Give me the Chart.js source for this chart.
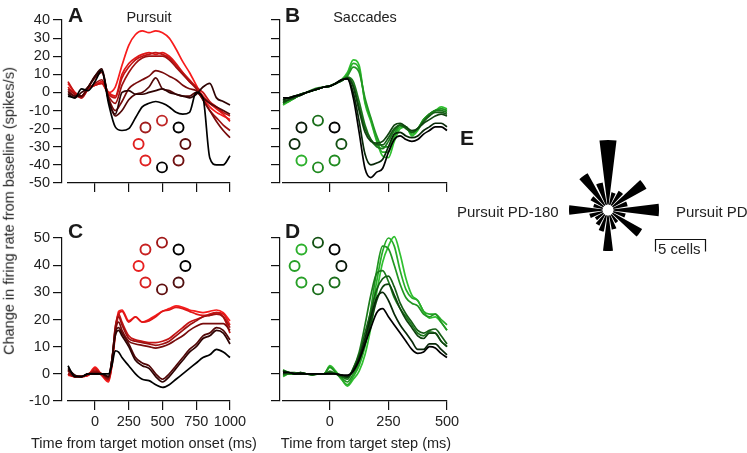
<!DOCTYPE html>
<html><head><meta charset="utf-8">
<script src="https://cdn.jsdelivr.net/npm/chart.js@4.4.1/dist/chart.umd.min.js"></script>
<style>
html,body{margin:0;padding:0;background:#fff;}
#wrap{position:relative;width:747px;height:453px;overflow:hidden;font-family:"Liberation Sans",Arial,Helvetica,sans-serif;color:#222;}
canvas{position:absolute;}
.t{position:absolute;white-space:nowrap;line-height:1;}
.L{font-weight:bold;font-size:21px;color:#1a1a1a;}
.s{font-size:14.5px;}
</style></head><body><div id="wrap">
<canvas id="cA" width="747" height="453" style="left:0;top:0"></canvas>
<canvas id="cB" width="747" height="453" style="left:0;top:0"></canvas>
<canvas id="cC" width="747" height="453" style="left:0;top:0"></canvas>
<canvas id="cD" width="747" height="453" style="left:0;top:0"></canvas>
<canvas id="rA" width="84" height="84" style="left:120px;top:102px"></canvas>
<canvas id="rB" width="84" height="84" style="left:276px;top:102px"></canvas>
<canvas id="rC" width="84" height="84" style="left:120px;top:224px"></canvas>
<canvas id="rD" width="84" height="84" style="left:276px;top:224px"></canvas>
<canvas id="cE" width="220" height="160" style="left:528px;top:130px"></canvas>
<div class="t L" style="left:68px;top:4px">A</div>
<div class="t L" style="left:285px;top:4px">B</div>
<div class="t L" style="left:68px;top:220px">C</div>
<div class="t L" style="left:285px;top:220px">D</div>
<div class="t L" style="left:460px;top:127px">E</div>
<div class="t s" style="left:149px;top:10px;transform:translateX(-50%)">Pursuit</div>
<div class="t s" style="left:365px;top:10px;transform:translateX(-50%)">Saccades</div>
<div class="t s" style="left:144px;top:436px;transform:translateX(-50%)">Time from target motion onset (ms)</div>
<div class="t s" style="left:366px;top:436px;transform:translateX(-50%)">Time from target step (ms)</div>
<div class="t s" style="left:9px;top:211px;transform:translate(-50%,-50%) rotate(-90deg)">Change in firing rate from baseline (spikes/s)</div>
<div class="t" style="left:457px;top:204px;font-size:15px">Pursuit PD-180</div>
<div class="t" style="left:676px;top:204px;font-size:15px">Pursuit PD</div>
<div class="t" style="left:658px;top:241px;font-size:15px">5 cells</div>
</div>
<script>
// ---------- time bases ----------
const tA = [-200,-150,-100,-50,0,50,100,150,200,250,300,350,400,450,500,550,600,650,700,750,800,850,900,950,1000];
const tB = [-200,-175,-150,-125,-100,-75,-50,-25,0,25,50,75,100,125,150,175,200,225,250,275,300,325,350,375,400,425,450,475,500];
const tC = [-200,-150,-100,-50,0,50,100,125,150,175,200,250,300,350,400,450,500,550,600,650,700,750,800,850,900,950,1000];
const tD = tB;

// ---------- Panel A: pursuit, 8 directions (dark -> bright red) ----------
const A8 = [-2,-3,2,1,6,12,-6,-19,-21,-20,-14,-8,-6,-5,-6,-8,-11,-12,-11,0,-3,-36,-40,-40,-35];
const A7 = [-1,-3,0,3,9,13,-4,-12,0,1,-1,-1,0,1,2,0,-1,-2,-3,-1,3,5,-3,-5,-7];
const A6 = [0,-2,-2,3,9,12,-4,-13,-10,-4,-1,0,3,8,2,1,-1,-2,-2,0,-3,-6,-8,-10,-12];
const A5 = [1,-2,-2,3,8,11,-3,-10,-5,2,5,7,9,12,11,9,7,4,2,1,-4,-10,-16,-21,-25];
const A4 = [2,-1,-3,2,5,7,-2,-6,4,11,16,19,20,20,20,18,14,10,6,2,-4,-10,-14,-18,-21];
const A3 = [6,0,-2,2,4,5,-1,-3,8,14,18,20,21,22,21,19,15,11,7,3,0,-5,-8,-11,-13];
const A2 = [3,-1,-2,3,4,6,0,-2,10,16,19,21,22,21,22,20,16,11,6,3,-2,-6,-9,-12,-16];
const A1 = [5,0,-3,2,4,5,0,3,15,26,32,34,33,34,33,30,24,17,11,4,-3,-8,-11,-13,-15];

// ---------- Panel B: saccades (dark -> bright green) ----------
const B1 = [-3,-3,-2,-1.5,0,1,2,3,3.5,5,7,7.5,-3,-22,-42,-47,-44,-42,-33,-26,-24,-26,-27,-26,-23,-21,-19,-19,-21];
const B2 = [-4,-3,-2,-1,0,1,2,3,3.5,5,7,7.5,0,-16,-34,-40,-39,-37,-30,-23,-22,-24,-25,-24,-21,-19,-17,-17,-19];
const B3 = [-5,-4,-2.5,-1,0,1,2.2,3,3.5,5,6.5,8,3,-10,-22,-27,-28,-27,-23,-18,-17,-19,-21,-20,-17,-15,-13,-12,-13];
const B4 = [-6,-4,-3,-1.5,0,1,2,3,3.5,5,6.5,8,4,-8,-20,-26,-29,-29,-25,-20,-18,-20,-22,-20,-16,-13,-11,-11,-12];
const B5 = [-4,-3,-2,-1,0,1.5,2.5,3,3.5,5,6.5,8.5,6,-5,-18,-26,-30,-31,-27,-21,-18,-19,-22,-20,-16,-12,-10,-10,-11];
const B6 = [-5,-4,-3,-1,0,1,2,3,3.5,5,6.5,9,14,11,-3,-14,-24,-30,-30,-23,-18,-19,-22,-20,-15,-12,-10,-9,-10];
const B7 = [-6,-5,-3,-1.5,0,1,2,3,3.5,5,7,10,16,13,-5,-15,-26,-33,-33,-25,-19,-19,-23,-20,-15,-12,-10,-9,-10];
const B8 = [-7,-5,-3,-1.5,0,1,2,3,3.5,5,7,11,18,15,-6,-16,-27,-35,-36,-27,-20,-19,-24,-21,-15,-12,-10,-8,-9];

// ---------- Panel C: pursuit, step-ramp ----------
const C8 = [3,-1,-1,0,0,0,0,3,8.5,8,6,3,0,-2,-2.5,-4,-5,-4,-2,0,2,4,6,7,9,8,6];
const C7 = [2,-0.5,-1,0,0,0,-1,5,14,16,14,10,5,3,2,-1,-3,-1,2,5,8,10,13,14,16,15,11];
const C6 = [1.5,-0.5,-1,0,0,0,-1,5,15,17,15,11,6,4,3,0,-2,0,3,6,9,11,14,15,17,16,12.5];
const C5 = [1,-1,-1,0,0.5,0,-1.5,5,16,19,16,12,11,10.5,10,9.5,10,11,12.5,14,16,17.5,18.5,18.5,18.5,18.5,16];
const C4 = [0,-1,-1,0,1,0,-2,4,17,21,18,13,12,11.5,11,10.5,11,12,14,16,18,19.5,21,21.5,22,21,17];
const C3 = [0,-1,-1,-0.5,1.5,-0.5,-2,4,17,22,19,14,12.5,12,11.5,11.5,12,13,15,17,19,20,21,22,22.5,21,15];
const C2 = [0,-1,-1,-0.5,2,-0.5,-2.5,3,14,22,23,19,21,19,19.5,21,23,23.5,24.5,24,23,22,21.5,21.5,22.5,22,18];
const C1 = [-0.5,-1,-1,-0.5,2.5,-0.5,-3,3,15,23,23.5,19.5,21,19,20,21.5,23,24,25,24.5,23.5,23,22.5,23,23.5,22.5,19.5];

// ---------- Panel D: saccades ----------
const D8 = [0.5,0.5,0,0,0,0,0,0,0,0,-0.5,-0.5,1,5,11,17,22.5,24,21,18,15,12,9,7.5,8,10,9.5,7.5,6];
const D7 = [1,0.5,0,0.5,0,0,0,0,0,0,-0.5,-1,1.5,6,13,21,28,30,27,22,18,15,12,9,9,11,11,9,7];
const D6 = [0,0.5,0,0,0,0,0,0,0.5,0,-0.5,-1,1,5,11,19,27,32,33,29,24,20,17,14,13,15,15,12,10];
const D5 = [1,0.5,0.5,0,0,-0.5,0,0,0.5,0,-1,-1.5,2,7,15,23,31,35,36,32,26,22,19,16,15,16,16.5,14,11];
const D4 = [-0.5,0,0,0.5,0,0,0,0,1,0,-1,-2,2,8,18,29,37,38,34,28,24,21,18,15,14,15.5,15,12,10];
const D3 = [1.5,0.5,0,0,0,-0.5,0,0,2.5,0.5,-1.5,-3,0,4,12,24,38,47,46,40,33,28,26,25,22,21,22,19,16];
const D2 = [0,0,0,0.5,0,0,0,0,2.5,0.5,-2,-4,-1,3,10,21,34,45,50,47,38,31,28,27,23,22,22,20,18];
const D1 = [-1,0,0,0,0,0,0,0,3,1,-2,-4.5,-2,1,7,17,30,41,47,50.5,44,35,29,27,23,20.5,21,19,16];

// ---------- colours (dark -> bright) ----------
const reds = ['#000000','#2e0303','#520707','#780b0b','#9e1010','#c41414','#e01717','#f81c1c'];
const greens = ['#000000','#082808','#0f430f','#155e15','#1b7a1b','#219621','#28ac28','#30c030'];

// ---------- axis ticks ----------
const yTicksTop = [40,30,20,10,0,-10,-20,-30,-40,-50];
const yTicksBot = [50,40,30,20,10,0,-10];
const xTicksPursuit = [0,250,500,750,1000];
const xTicksSacc = [0,250,500];

// ---------- direction rings ----------
const ringDirs = [0,45,90,135,180,225,270,315];
const ringA = ['#5a0c0c','#000000','#c02828','#a01c1c','#e02020','#e02020','#000000','#701010'];
const ringB = ['#145214','#000000','#1a6e1a','#0a1a0a','#0f2f0f','#2db02d','#1f8a1f','#1f8a1f'];
const ringC = ['#000000','#000000','#a01818','#c82020','#e82020','#d82020','#601010','#501010'];
const ringD = ['#0a1a0a','#000000','#145214','#2db02d','#28a028','#28a028','#1a6e1a','#1a6e1a'];

// ---------- rose (cells per 18 deg bin, starting North, clockwise) ----------
const roseCounts = [7,1.8,2.2,4.4,2,5.1,1.8,3.9,1.5,2,4.1,2.2,1.8,1.5,1.9,3.9,1.5,2,4.2,2.8];

Chart.defaults.font.family = '"Liberation Sans", Arial, sans-serif';
Chart.defaults.color = '#222';

function mkLine(id, area, times, series, cols, xr, yr, xt, yt, showX, showY, yAxisAt){
  const ds = series.map((s,i)=>({
    data: s.map((v,j)=>({x:times[j], y:v})),
    borderColor: cols[i], borderWidth: 1.7, pointRadius: 0,
    cubicInterpolationMode: 'monotone', fill:false, clip:false
  }));
  new Chart(document.getElementById(id), {
    type:'line',
    data:{datasets:ds},
    options:{
      responsive:false, animation:false, devicePixelRatio:1,
      layout:{padding:{left:area.l, right:747-area.r, top:area.t, bottom:453-area.b-40}},
      plugins:{legend:{display:false}, tooltip:{enabled:false}},
      scales:{
        x:{type:'linear', position:'bottom', min:xr[0], max:xr[1],
           afterBuildTicks:s=>{s.ticks = xt.map(v=>({value:v}));},
           afterFit:s=>{s.height=40;},
           grid:{display:true, drawOnChartArea:false, drawTicks:true, tickLength:9, color:'#111', lineWidth:1.2},
           border:{display:true, color:'#111', width:1.2},
           ticks:{display:showX, padding:3, font:{size:14.5}, color:'#222', maxRotation:0, autoSkip:false,
                  callback:v=>String(v)}},
        y:{type:'linear', axis:'y', position:{x:yAxisAt}, min:yr[0], max:yr[1],
           afterBuildTicks:s=>{s.ticks = yt.map(v=>({value:v}));},
           grid:{display:true, drawOnChartArea:false, drawTicks:true, tickLength:8, color:'#111', lineWidth:1.2},
           border:{display:true, color:'#111', width:1.2},
           // axis placed at a data position: labels are right-aligned on the axis line,
           // so trailing spaces keep them clear of the tick marks
           ticks:{display:showY, font:{size:14.5}, color:'#222', autoSkip:false,
                  callback:v=>String(v) + '\u2007 '}}
      }
    }
  });
}

mkLine('cA',{l:68,r:230,t:20,b:183}, tA,[A8,A7,A6,A5,A4,A3,A2,A1], reds,[-200,1000],[-50,40], xTicksPursuit, yTicksTop, false, true, -244);
mkLine('cB',{l:283,r:447,t:20,b:183}, tB,[B1,B2,B3,B4,B5,B6,B7,B8], greens,[-200,500],[-50,40], xTicksSacc, yTicksTop, false, false, -216);
mkLine('cC',{l:68,r:230,t:238,b:401}, tC,[C8,C7,C6,C5,C4,C3,C2,C1], reds,[-200,1000],[-10,50], xTicksPursuit, yTicksBot, true, true, -244);
mkLine('cD',{l:283,r:447,t:238,b:401}, tD,[D8,D7,D6,D5,D4,D3,D2,D1], greens,[-200,500],[-10,50], xTicksSacc, yTicksBot, true, false, -216);

function mkRing(id, cols){
  new Chart(document.getElementById(id), {
    type:'scatter',
    data:{datasets:[{
      data: ringDirs.map(d=>({x:Math.cos(d*Math.PI/180), y:Math.sin(d*Math.PI/180)})),
      pointRadius:5, pointBorderWidth:1.9, pointBackgroundColor:'rgba(0,0,0,0)',
      pointBorderColor: cols, clip:false
    }]},
    options:{responsive:false, animation:false, devicePixelRatio:1,
      layout:{padding:0},
      plugins:{legend:{display:false}, tooltip:{enabled:false}},
      scales:{x:{display:false,min:-1.5,max:1.5}, y:{display:false,min:-1.5,max:1.5}}}
  });
}
mkRing('rA', ringA); mkRing('rB', ringB); mkRing('rC', ringC); mkRing('rD', ringD);

// rose plot
const roseData = [];
roseCounts.forEach(v=>{ roseData.push(v); roseData.push(0); });
const roseDeco = {
  id:'roseDeco',
  afterDatasetsDraw(chart){
    const r = chart.scales.r;
    const ctx = chart.ctx;
    // white hub at the centre
    ctx.save(); ctx.fillStyle = '#fff';
    ctx.beginPath(); ctx.arc(r.xCenter, r.yCenter, r.getDistanceFromCenterForValue(0.55), 0, Math.PI*2); ctx.fill();
    ctx.restore();
  },
  afterDraw(chart){
    const r = chart.scales.r;
    const len = r.getDistanceFromCenterForValue(5);
    const ctx = chart.ctx;
    const x0 = 127.5, y0 = 109.5;
    ctx.save(); ctx.strokeStyle='#111'; ctx.lineWidth=1.2;
    ctx.beginPath();
    ctx.moveTo(x0, y0+12); ctx.lineTo(x0, y0); ctx.lineTo(x0+len, y0); ctx.lineTo(x0+len, y0+12);
    ctx.stroke(); ctx.restore();
  }
};
new Chart(document.getElementById('cE'), {
  type:'polarArea',
  data:{labels: roseData.map((_,i)=>String(i)), datasets:[{
    data: roseData, backgroundColor:'#000', borderWidth:0,
    angle: c => (c.dataIndex % 2 === 0 ? 14 : 4)
  }]},
  options:{responsive:false, animation:false, devicePixelRatio:1,
    layout:{padding:{left:0,right:60,top:0,bottom:0}},
    plugins:{legend:{display:false}, tooltip:{enabled:false}},
    scales:{r:{display:false, min:0, max:8, startAngle:-7}}},
  plugins:[roseDeco]
});
</script>
</body></html>
